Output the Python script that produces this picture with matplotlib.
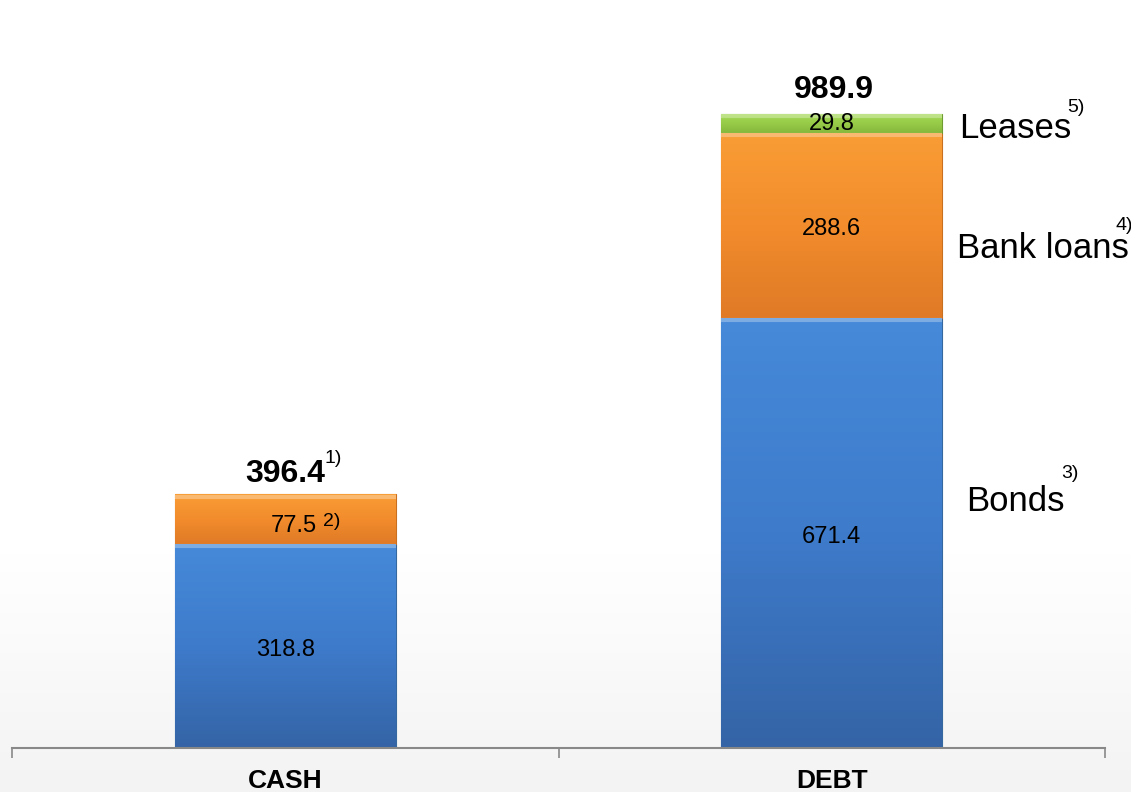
import numpy as np
import matplotlib.pyplot as plt
from matplotlib.colors import LinearSegmentedColormap

plt.rcParams['font.family'] = ['Liberation Sans', 'DejaVu Sans']

categories = ["CASH", "DEBT"]
bonds_cash = [318.8, 671.4]     # blue segment (cash / bonds)
middle = [77.5, 288.6]          # orange segment (cash 2) / bank loans)
leases = [0.0, 29.8]            # green segment
totals = [396.4, 989.9]

fig = plt.figure(figsize=(11.31, 7.92), dpi=100)

# very light grey gradient background at the bottom
bg = fig.add_axes([0, 0, 1, 1], zorder=0)
grad = np.linspace(0, 1, 256).reshape(-1, 1)
bg_cmap = LinearSegmentedColormap.from_list("bg", [(0, "#f3f3f3"), (0.3, "#ffffff"), (1, "#ffffff")])
bg.imshow(grad, aspect="auto", cmap=bg_cmap, extent=[0, 1, 0, 1], origin="lower")
bg.axis("off")

ax = fig.add_axes([12 / 1131, 44 / 792, (1105 - 12) / 1131, 748 / 792], zorder=1)
ax.patch.set_alpha(0)
x = np.arange(len(categories))
w = 0.404

b1 = ax.bar(x, bonds_cash, w, color="#3f7fcf", edgecolor="#35689f", linewidth=0.8)
b2 = ax.bar(x, middle, w, bottom=bonds_cash, color="#f28c28", edgecolor="#c96f20", linewidth=0.8)
bottom3 = [a + b for a, b in zip(bonds_cash, middle)]
b3 = ax.bar(x[1:], leases[1:], w, bottom=bottom3[1:], color="#8fc642", edgecolor="#6f9c30", linewidth=0.8)

# vertical shading inside each bar segment
shades = {
    "blue": ["#3464a6", "#3e7bcb", "#468ad9"],
    "orange": ["#e07a26", "#f28c2c", "#f99d36"],
    "green": ["#86b83c", "#97cc48", "#a6da58"],
}
for bars, key in [(b1, "blue"), (b2, "orange"), (b3, "green")]:
    cm = LinearSegmentedColormap.from_list(key, shades[key])
    for p in bars:
        x0, y0 = p.get_x(), p.get_y()
        im = ax.imshow(grad, aspect="auto", cmap=cm, origin="lower",
                       extent=[x0, x0 + p.get_width(), y0, y0 + p.get_height()], zorder=1.5)
        im.set_clip_path(p)
        # light bevel on top edge
        ax.plot([x0, x0 + p.get_width()], [y0 + p.get_height() - 4] * 2,
                color="white", alpha=0.3, lw=3, zorder=1.6, solid_capstyle="butt")

dy = 6  # small downward nudge for text centring

# segment values
ax.text(0, bonds_cash[0] / 2 - dy, "318.8", ha="center", va="center", fontsize=17, zorder=3)
ax.text(0.015, 353 - dy, "77.5", ha="center", va="center", fontsize=17, zorder=3)
ax.text(0.069, 360 - dy, "2)", ha="left", va="center", fontsize=14, zorder=3)
ax.text(1, bonds_cash[1] / 2 - dy, "671.4", ha="center", va="center", fontsize=17, zorder=3)
ax.text(1, bonds_cash[1] + middle[1] / 2 - dy, "288.6", ha="center", va="center", fontsize=17, zorder=3)
ax.text(1, bottom3[1] + leases[1] / 2 - 2, "29.8", ha="center", va="center", fontsize=17, zorder=3)

# totals
ax.text(0, 434 - dy, "396.4", ha="center", va="center", fontsize=23, fontweight="bold")
ax.text(0.071, 458 - dy, "1)", ha="left", va="center", fontsize=14)
ax.text(1.003, 1033 - dy, "989.9", ha="center", va="center", fontsize=23, fontweight="bold")

# labels on the right
ax.text(1.233, 972 - dy, "Leases", ha="left", va="center", fontsize=25)
ax.text(1.431, 1006 - dy, "5)", ha="left", va="center", fontsize=14)
ax.text(1.230, 785 - dy, "Bank loans", ha="left", va="center", fontsize=25)
ax.text(1.519, 821 - dy, "4)", ha="left", va="center", fontsize=14, clip_on=False)
ax.text(1.246, 391 - dy, "Bonds", ha="left", va="center", fontsize=25)
ax.text(1.42, 434 - dy, "3)", ha="left", va="center", fontsize=14)

ax.set_xlim(-0.5, 1.5)
ax.set_ylim(0, 1167)
ax.set_xticks(x)
ax.set_xticklabels(categories, fontsize=19, fontweight="bold")
ax.tick_params(axis="x", which="major", length=0, pad=15)
ax.set_xticks([-0.5, 0.5, 1.5], minor=True)
ax.tick_params(axis="x", which="minor", length=7, color="#888888", width=1.2)
ax.set_yticks([])
for s in ["top", "right", "left"]:
    ax.spines[s].set_visible(False)
ax.spines["bottom"].set_color("#888888")
ax.spines["bottom"].set_linewidth(1.5)

fig.savefig("out.png", dpi=100)
